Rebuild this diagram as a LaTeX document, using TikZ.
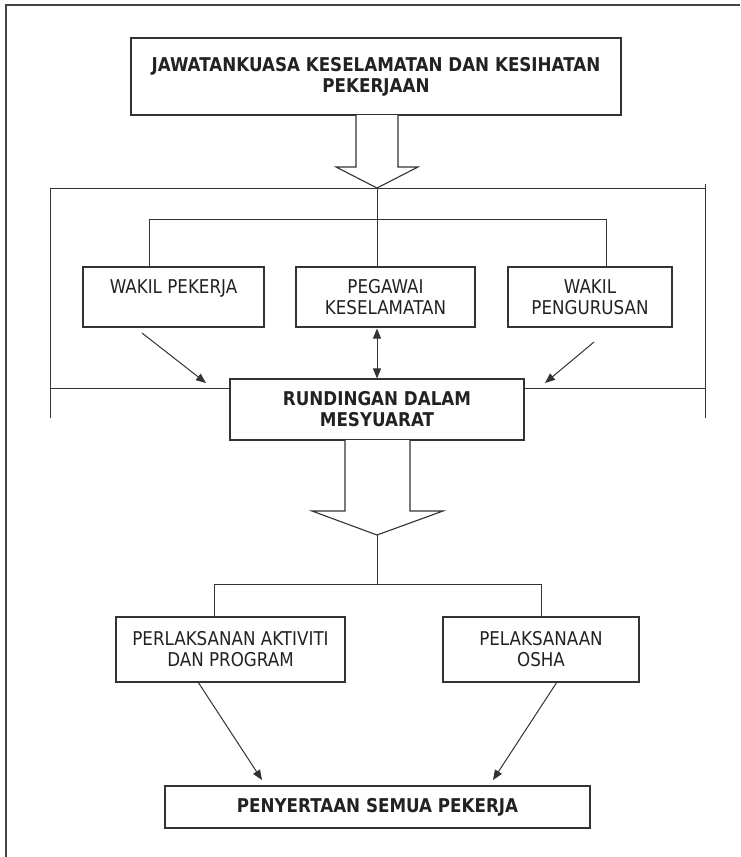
\documentclass[tikz,border=0pt]{standalone}
\usepackage{fontspec}
\setmainfont[FakeStretch=0.88]{DejaVu Sans}
\usetikzlibrary{arrows.meta,calc}
\definecolor{ink}{HTML}{222222}
\definecolor{ln}{HTML}{333333}
\begin{document}
\begin{tikzpicture}[x=1pt,y=-1pt,
  box/.style={draw=ln,line width=1.1pt,fill=white,text=ink,align=center,inner sep=0pt,
     font=\fontsize{19}{21}\selectfont},
  bbox/.style={box,font=\fontsize{19}{21}\selectfont\bfseries},
  conn/.style={draw=ln,line width=1pt},
  arr/.style={conn,-{Triangle[length=10pt,width=8pt]}},
  darr/.style={conn,{Triangle[length=10pt,width=8pt]}-{Triangle[length=10pt,width=8pt]}},
  blk/.style={draw=ln,line width=1.1pt,fill=white}]
\useasboundingbox (0,0) rectangle (740,857);
\fill[white] (0,0) rectangle (740,857);
\draw[line width=2pt,ln!80!gray] (740,5) -- (6,5) -- (6,857);

% nodes
\node[bbox,minimum width=490pt,minimum height=77pt] (top) at (376,76.5)
  {JAWATANKUASA KESELAMATAN DAN KESIHATAN\\PEKERJAAN};
\node[box,minimum width=181pt,minimum height=60pt] (wp) at (173.5,297) {WAKIL PEKERJA\\\mbox{}};
\node[box,minimum width=179pt,minimum height=60pt] (pk) at (385.5,297) {PEGAWAI\\KESELAMATAN};
\node[box,minimum width=164pt,minimum height=60pt] (wpg) at (590,297) {WAKIL\\PENGURUSAN};
\node[bbox,minimum width=294pt,minimum height=61pt] (rund) at (377,409.5) {RUNDINGAN DALAM\\MESYUARAT};
\node[box,minimum width=229pt,minimum height=65pt] (pa) at (230.5,649.5) {PERLAKSANAN AKTIVITI\\DAN PROGRAM};
\node[box,minimum width=196pt,minimum height=65pt] (po) at (541,649.5) {PELAKSANAAN\\OSHA};
\node[bbox,minimum width=425pt,minimum height=42pt] (ps) at (377.5,807) {PENYERTAAN SEMUA PEKERJA};

% block arrow 1
\coordinate (tip1) at (377,188);
\draw[blk] (356,115) -- (356,167) -- (336,167) -- (tip1) -- (418,167) -- (398,167) -- (398,115);

% bracket
\draw[conn] (50,418) -- (50,188) -- (705,188) -- (705,418);
\draw[conn] (705,184) -- (705,188);
\draw[conn] (50,388) -- (rund.west |- 0,388);
\draw[conn] (rund.east |- 0,388) -- (705,388);

% tree to row of three
\draw[conn] (tip1) -- (377,267);
\coordinate (bl) at (149,219);
\coordinate (br) at (606,219);
\draw[conn] (bl |- wp.north) -- (bl) -- (br) -- (br |- wpg.north);

% arrows to rund
\coordinate (a1s) at (142,333); \coordinate (a1e) at (206,383);
\coordinate (a3s) at (594,342); \coordinate (a3e) at (545,383);
\draw[arr] (a1s) -- (a1e);
\draw[arr] (a3s) -- (a3e);
\draw[darr] (rund.north |- pk.south) ++(0,1) -- (rund.north);

% block arrow 2
\coordinate (tip2) at (377,535);
\draw[blk] (345,440) -- (345,511) -- (312,511) -- (tip2) -- (443,511) -- (410,511) -- (410,440);

% tree to two
\coordinate (cl) at (214,584);
\coordinate (cr) at (541,584);
\draw[conn] (tip2) -- (377,584);
\draw[conn] (cl |- pa.north) -- (cl) -- (cr) -- (cr |- po.north);

% arrows to bottom
\coordinate (b1s) at (198,682); \coordinate (b1e) at (262,780);
\coordinate (b2s) at (557,682); \coordinate (b2e) at (493,780);
\draw[arr] (b1s) -- (b1e);
\draw[arr] (b2s) -- (b2e);
\end{tikzpicture}
\end{document}
